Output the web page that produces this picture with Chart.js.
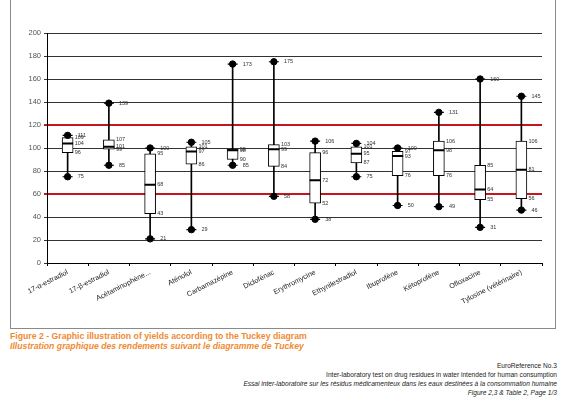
<!DOCTYPE html>
<html>
<head>
<meta charset="utf-8">
<script src="https://cdn.jsdelivr.net/npm/chart.js@4.4.0/dist/chart.umd.min.js"></script>
<style>
  body { margin: 0; background: #fff; width: 566px; height: 400px; position: relative; overflow: hidden; font-family: "Liberation Sans", Arial, sans-serif; }
  #frame { position: absolute; left: 10px; top: -1px; width: 544px; height: 328px; border: 1px solid #8a8a8a; }
  #chartBox { position: absolute; left: 0; top: 0; width: 544px; height: 328px; }
  .cap { position: absolute; left: 10px; color: #f08a32; font-weight: bold; font-size: 8.7px; white-space: nowrap; }
  .foot { position: absolute; right: 9px; font-size: 6.6px; color: #222; white-space: nowrap; text-align: right; }
</style>
</head>
<body>
<div id="frame"><div id="chartBox"><canvas id="boxChart"></canvas></div></div>

<div class="cap" style="top:331px">Figure 2 - Graphic illustration of yields according to the Tuckey diagram</div>
<div class="cap" style="top:341px;font-style:italic">Illustration graphique des rendements suivant le diagramme de Tuckey</div>

<div class="foot" style="top:362px">EuroReference No.3</div>
<div class="foot" style="top:371px">Inter-laboratory test on drug residues in water intended for human consumption</div>
<div class="foot" style="top:380px;font-style:italic">Essai inter-laboratoire sur les résidus médicamenteux dans les eaux destinées à la consommation humaine</div>
<div class="foot" style="top:389px;font-style:italic">Figure 2,3 &amp; Table 2, Page 1/3</div>

<script>
// Data
const categories = ['17-α-estradiol', '17-β-estradiol', 'Acétaminophène...', 'Aténolol', 'Carbamazépine',
    'Diclofénac', 'Erythromycine', 'Ethynilestradiol', 'Ibuprofène', 'Kétoprofène', 'Ofloxacine', 'Tylosine (vétérinaire)'];
const minVals = [75, 85, 21, 29, 85, 58, 38, 75, 50, 49, 31, 46];
const q1Vals  = [96, 99, 43, 86, 90, 84, 52, 87, 76, 76, 55, 56];
const medVals = [104, 101, 68, 97, 98, 99, 72, 95, 93, 98, 64, 81];
const q3Vals  = [109, 107, 95, 101, 99, 103, 96, 101, 97, 106, 85, 106];
const maxVals = [111, 139, 100, 105, 173, 175, 106, 104, 100, 131, 160, 145];
const yTicks = [0, 20, 40, 60, 80, 100, 120, 140, 160, 180, 200];
const limitLines = [60, 120];

const font = '"Liberation Sans", Arial, sans-serif';

// value labels beside each box
const valueLabels = {
    id: 'valueLabels',
    afterDatasetsDraw(chart) {
        const { ctx, scales: { x, y } } = chart;
        ctx.save();
        ctx.font = '5.5px ' + font;
        ctx.fillStyle = '#333';
        ctx.textBaseline = 'middle';
        categories.forEach((c, i) => {
            const cx = x.getPixelForValue(i);
            [[maxVals, 10], [q3Vals, 7], [medVals, 7], [q1Vals, 7], [minVals, 10]].forEach(([arr, dx]) => {
                ctx.fillText(String(arr[i]), cx + dx, y.getPixelForValue(arr[i]));
            });
        });
        ctx.restore();
    }
};

const ctx = document.getElementById('boxChart').getContext('2d');

new Chart(ctx, {
    type: 'bar',
    data: {
        labels: categories,
        datasets: [
            {   // whiskers
                data: minVals.map((v, i) => [v, maxVals[i]]),
                backgroundColor: '#000',
                barThickness: 1,
                grouped: false,
                order: 4
            },
            {   // boxes
                data: q1Vals.map((v, i) => [v, q3Vals[i]]),
                backgroundColor: '#fff',
                borderColor: '#000',
                borderWidth: 1,
                borderSkipped: false,
                barThickness: 11,
                grouped: false,
                order: 3
            },
            {   // medians
                type: 'line',
                data: medVals,
                showLine: false,
                pointStyle: 'line',
                pointRadius: 5.5,
                borderColor: '#000',
                borderWidth: 2,
                order: 2
            },
            {   // max markers
                type: 'line',
                data: maxVals,
                showLine: false,
                pointStyle: 'circle',
                pointRadius: 3.2,
                backgroundColor: '#000',
                borderColor: '#000',
                order: 1
            },
            {   // min markers
                type: 'line',
                data: minVals,
                showLine: false,
                pointStyle: 'circle',
                pointRadius: 3.2,
                backgroundColor: '#000',
                borderColor: '#000',
                order: 1
            },
            {   // caps
                type: 'line',
                data: maxVals,
                showLine: false,
                pointStyle: 'line',
                pointRadius: 5,
                borderColor: '#000',
                borderWidth: 1.2,
                order: 0
            },
            {
                type: 'line',
                data: minVals,
                showLine: false,
                pointStyle: 'line',
                pointRadius: 5,
                borderColor: '#000',
                borderWidth: 1.2,
                order: 0
            }
        ]
    },
    options: {
        responsive: true,
        maintainAspectRatio: false,
        animation: false,
        layout: { padding: { top: 33, right: 13, bottom: 0, left: 0 } },
        plugins: {
            legend: { display: false },
            tooltip: { enabled: false }
        },
        scales: {
            x: {
                afterFit: (s) => { s.height = 65; },
                grid: { drawOnChartArea: false, drawTicks: true, tickLength: 3, color: '#000', offset: true },
                border: { color: '#000', width: 1 },
                ticks: {
                    color: '#222',
                    font: { family: font, size: 7.2 },
                    minRotation: 27,
                    maxRotation: 27,
                    autoSkip: false,
                    padding: 2
                }
            },
            y: {
                min: 0,
                max: 200,
                afterFit: (s) => { s.width = 36; },
                afterBuildTicks: (s) => { s.ticks = yTicks.map(v => ({ value: v })); },
                grid: {
                    tickLength: 3,
                    color: (c) => limitLines.includes(c.tick && c.tick.value) ? '#c4161c' : '#333',
                    lineWidth: (c) => limitLines.includes(c.tick && c.tick.value) ? 2 : 1
                },
                border: { color: '#000', width: 1 },
                ticks: {
                    color: '#555',
                    font: { family: font, size: 7.5 },
                    padding: 3
                }
            }
        }
    },
    plugins: [valueLabels]
});
</script>
</body>
</html>
